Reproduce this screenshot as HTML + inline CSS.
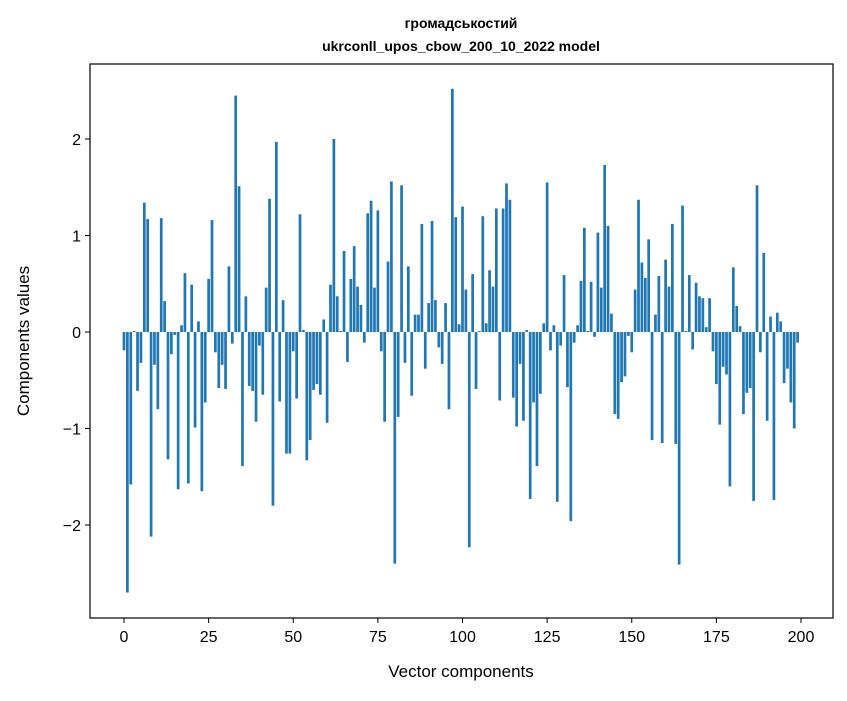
<!DOCTYPE html>
<html><head><meta charset="utf-8"><style>
body{margin:0;background:#fff}
svg text{font-family:"Liberation Sans","DejaVu Sans",sans-serif;fill:#000}
</style></head><body>
<svg width="847" height="696" viewBox="0 0 847 696">
<rect width="847" height="696" fill="#fff"/>
<text x="461" y="28" text-anchor="middle" font-size="14" font-weight="bold">громадськостий</text>
<text x="461" y="51" text-anchor="middle" font-size="14" font-weight="bold">ukrconll_upos_cbow_200_10_2022 model</text>
<g id="bars"></g>
<rect x="90" y="64" width="743" height="554" fill="none" stroke="#000" stroke-width="1.2"/>
<g id="xt"></g>
<g id="yt"></g>
<text x="461" y="677" text-anchor="middle" font-size="17">Vector components</text>
<text transform="translate(29,341) rotate(-90)" text-anchor="middle" font-size="17">Components values</text>
</svg>
<script>
const values = [-0.19,-2.70,-1.58,0.01,-0.61,-0.32,1.34,1.17,-2.12,-0.34,
-0.80,1.18,0.32,-1.32,-0.23,-0.03,-1.63,0.07,0.61,-1.57,
0.49,-0.99,0.11,-1.65,-0.73,0.55,1.16,-0.21,-0.58,-0.34,
-0.59,0.68,-0.12,2.45,1.51,-1.39,0.37,-0.56,-0.61,-0.93,
-0.14,-0.65,0.46,1.38,-1.80,1.97,-0.72,0.33,-1.26,-1.26,
-0.20,-0.69,1.22,0.02,-1.33,-1.12,-0.60,-0.54,-0.65,0.13,
-0.94,0.49,2.00,0.37,0.01,0.84,-0.31,0.55,0.89,0.47,
0.28,-0.11,1.23,1.36,0.46,1.26,-0.20,-0.93,0.73,1.56,
-2.40,-0.88,1.52,-0.32,0.68,-0.66,0.18,0.18,1.12,-0.38,
0.30,1.15,0.33,-0.16,-0.33,0.30,-0.80,2.52,1.19,0.08,
1.30,0.44,-2.23,0.60,-0.59,0.01,1.20,0.09,0.64,0.47,
1.28,-0.71,1.28,1.54,1.37,-0.68,-0.98,-0.33,-0.92,0.02,
-1.73,-0.73,-1.39,-0.64,0.09,1.55,-0.19,0.07,-1.76,-0.14,
0.59,-0.57,-1.96,-0.11,0.07,0.53,1.08,0.01,0.52,-0.05,
1.03,0.46,1.73,1.10,0.19,-0.85,-0.90,-0.52,-0.46,-0.04,
-0.21,0.44,1.37,0.72,0.56,0.96,-1.12,0.18,0.58,-1.15,
0.75,0.47,1.12,-1.16,-2.41,1.31,0.01,0.59,-0.18,0.51,
0.37,0.35,0.05,0.35,-0.20,-0.54,-0.96,-0.36,-0.44,-1.60,
0.67,0.27,0.06,-0.85,-0.63,-0.58,-1.75,1.52,-0.21,0.82,
-0.92,0.16,-1.74,0.20,0.11,-0.53,-0.38,-0.73,-1.00,-0.11];
const xTicks = [0,25,50,75,100,125,150,175,200];
const yTicks = [-2,-1,0,1,2];
const yTickLabels = ["\u22122","\u22121","0","1","2"];
const NS="http://www.w3.org/2000/svg";
const xs = i => 124 + i*(677/200);
const ys = v => 332 - v*96.5;
const bw = 0.8*677/200;
const bars=document.getElementById('bars');
values.forEach((v,i)=>{
  const r=document.createElementNS(NS,'rect');
  r.setAttribute('x',xs(i)-bw/2);
  r.setAttribute('y',Math.min(ys(v),ys(0)));
  r.setAttribute('width',bw);
  r.setAttribute('height',Math.abs(ys(v)-ys(0)));
  r.setAttribute('fill','#1f77b4');
  
  
  bars.appendChild(r);
});
const xt=document.getElementById('xt');
xTicks.forEach(t=>{
  const l=document.createElementNS(NS,'line');
  l.setAttribute('x1',xs(t));l.setAttribute('x2',xs(t));
  l.setAttribute('y1',618);l.setAttribute('y2',623);
  l.setAttribute('stroke','#000');
  
  
  xt.appendChild(l);
  const tx=document.createElementNS(NS,'text');
  tx.setAttribute('x',xs(t));tx.setAttribute('y',642);
  tx.setAttribute('text-anchor','middle');tx.setAttribute('font-size','16');
  tx.textContent=t;
  
  
  xt.appendChild(tx);
});
const yt=document.getElementById('yt');
yTicks.forEach((t,k)=>{
  const l=document.createElementNS(NS,'line');
  l.setAttribute('x1',85);l.setAttribute('x2',90);
  l.setAttribute('y1',ys(t));l.setAttribute('y2',ys(t));
  l.setAttribute('stroke','#000');
  
  
  yt.appendChild(l);
  const tx=document.createElementNS(NS,'text');
  tx.setAttribute('x',81);tx.setAttribute('y',ys(t)+6);
  tx.setAttribute('text-anchor','end');tx.setAttribute('font-size','16');
  tx.textContent=yTickLabels[k];
  
  
  yt.appendChild(tx);
});
</script>
</body></html>
